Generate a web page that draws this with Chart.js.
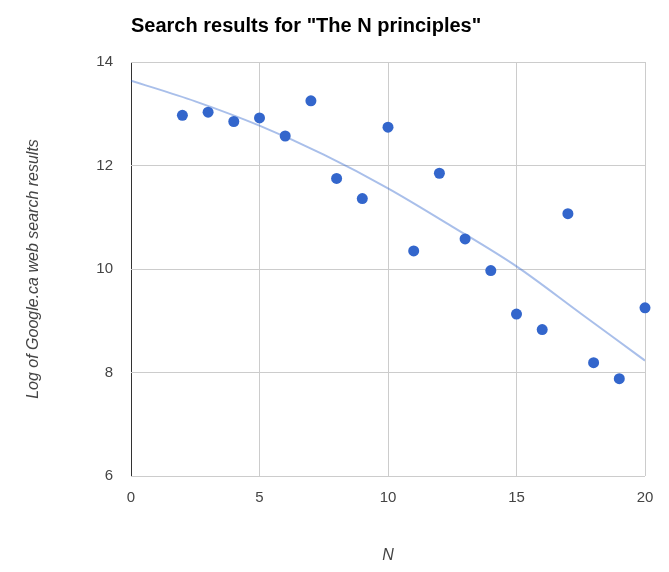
<!DOCTYPE html>
<html>
<head>
<meta charset="utf-8">
<title>Search results for "The N principles"</title>
<script src="https://cdn.jsdelivr.net/npm/chart.js@4/dist/chart.umd.min.js"></script>
<style>
  html, body { margin: 0; padding: 0; background: #fff; }
  #wrap { width: 669px; height: 572px; }
</style>
</head>
<body>
<div id="wrap"><canvas id="chart" width="669" height="572"></canvas></div>
<script>
// ---------- data ----------
const nValues    = [2, 3, 4, 5, 6, 7, 8, 9, 10, 11, 12, 13, 14, 15, 16, 17, 18, 19, 20];
const logResults = [12.97, 13.03, 12.85, 12.92, 12.57, 13.25, 11.75, 11.36, 12.74, 10.35,
                    11.85, 10.58, 9.97, 9.13, 8.83, 11.07, 8.19, 7.88, 9.25];

// trendline, read at every 2.5 along N
const trendN     = [0, 2.5, 5, 7.5, 10, 12.5, 15, 17.5, 20];
const trendLog   = [13.64, 13.24, 12.77, 12.21, 11.56, 10.82, 10.05, 9.14, 8.23];

const xTicks = [0, 5, 10, 15, 20];
const yTicks = [6, 8, 10, 12, 14];

// ---------- styles ----------
const FONT = 'Arial, "Liberation Sans", sans-serif';
const pointColor = '#3366cc';
const trendColor = 'rgba(51,102,204,0.42)';
const gridColor = '#cccccc';
const labelColor = '#444444';

Chart.defaults.font.family = FONT;
Chart.defaults.color = labelColor;

function toPoints(xs, ys){ return xs.map((x, i) => ({ x, y: ys[i] })); }

const ctx = document.getElementById('chart').getContext('2d');
const chart = new Chart(ctx, {
  type: 'scatter',
  data: {
    datasets: [
      {
        label: 'Trend',
        data: toPoints(trendN, trendLog),
        showLine: true,
        borderColor: trendColor,
        borderWidth: 2,
        pointRadius: 0,
        pointHoverRadius: 0,
        cubicInterpolationMode: 'monotone',
        order: 2
      },
      {
        label: 'Log of Google.ca web search results',
        data: toPoints(nValues, logResults),
        backgroundColor: pointColor,
        borderColor: pointColor,
        pointRadius: 5.5,
        pointBorderWidth: 0,
        clip: false,
        order: 1
      }
    ]
  },
  options: {
    responsive: false,
    animation: false,
    layout: { padding: { left: 0, right: 24, top: 0, bottom: 0 } },
    plugins: {
      legend: { display: false },
      tooltip: { enabled: false },
      title: {
        display: true,
        text: 'Search results for "The N principles"',
        align: 'start',
        fullSize: false,
        color: '#000',
        font: { family: FONT, size: 20, weight: 'bold' },
        padding: { top: 14, bottom: 24 }
      }
    },
    scales: {
      x: {
        type: 'linear',
        min: 0, max: 20,
        afterBuildTicks: (s) => { s.ticks = xTicks.map(v => ({ value: v })); },
        afterFit: (s) => { s.height = 96; },
        border: { display: false },
        grid: {
          drawTicks: false,
          color: (c) => c.tick && c.tick.value === 0 ? '#333333' : gridColor,
          lineWidth: 1
        },
        ticks: { padding: 12.5, color: labelColor, font: { size: 15 } },
        title: {
          display: true,
          text: 'N',
          color: labelColor,
          font: { size: 16, style: 'italic' },
          padding: { top: 0, bottom: 6.4 }
        }
      },
      y: {
        type: 'linear',
        min: 6, max: 14,
        afterBuildTicks: (s) => { s.ticks = yTicks.map(v => ({ value: v })); },
        afterFit: (s) => { s.width = 131; },
        border: { display: false },
        grid: { drawTicks: false, color: gridColor, lineWidth: 1 },
        ticks: { padding: 18, color: labelColor, font: { size: 15 } },
        title: {
          display: true,
          text: 'Log of Google.ca web search results',
          color: labelColor,
          font: { size: 16, style: 'italic' },
          padding: { top: 24.4, bottom: 0 }
        }
      }
    }
  }
});
</script>
</body>
</html>
